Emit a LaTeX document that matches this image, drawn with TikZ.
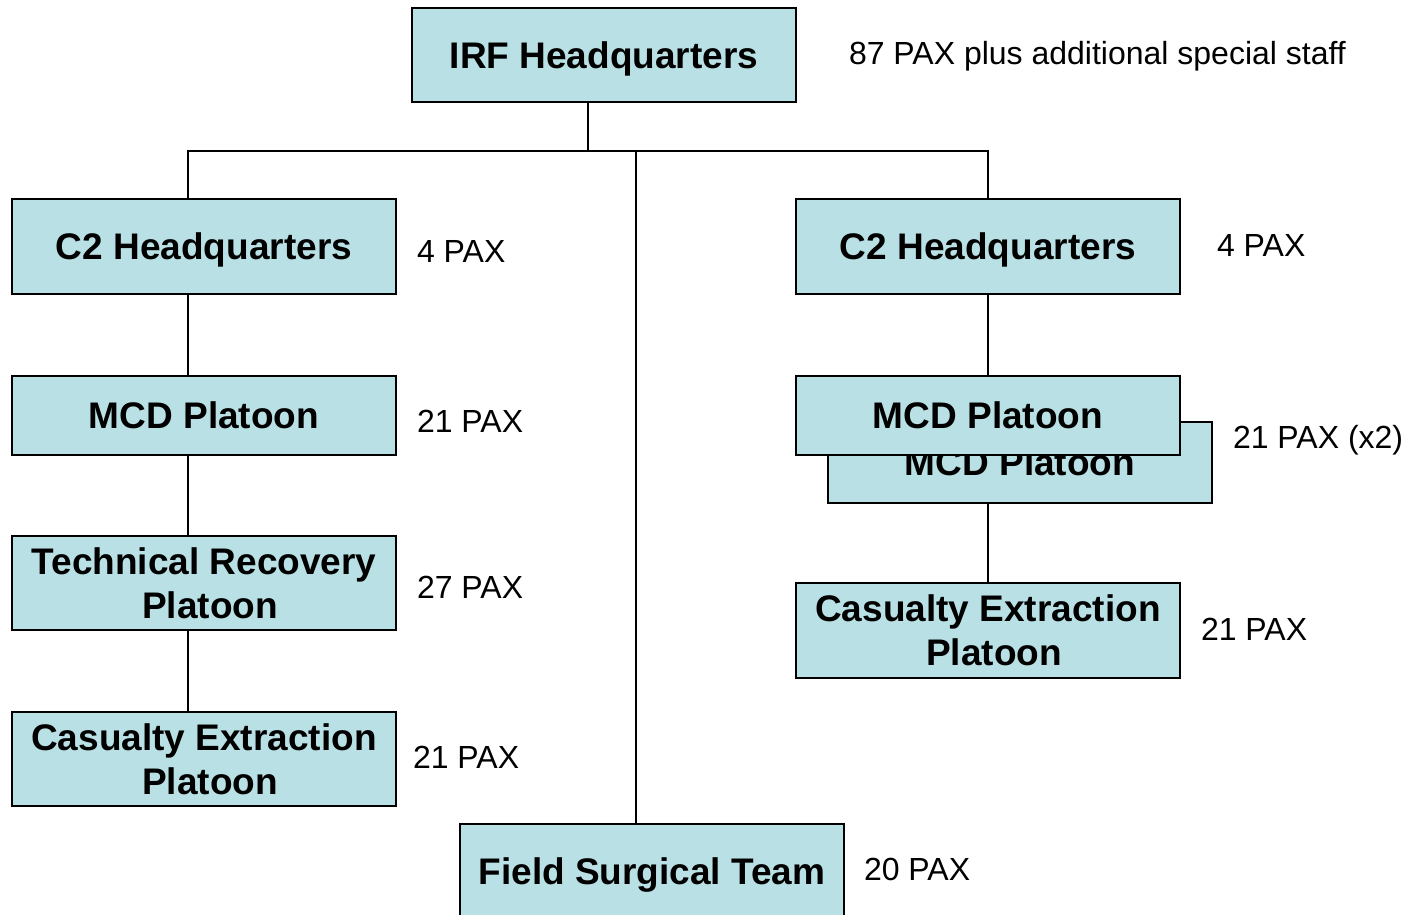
\documentclass[tikz,border=0pt]{standalone}
\usepackage{fontspec}
\setmainfont{Liberation Sans}
\definecolor{boxblue}{RGB}{185,224,228}
\begin{document}
\begin{tikzpicture}[x=0.5pt,y=-0.5pt,line width=1pt,
    unit/.style={draw,line width=1pt,fill=boxblue,minimum width=192pt,
        align=center,inner sep=0pt,font=\bfseries\fontsize{18.5}{22}\selectfont},
    oneline/.style={text height=13.25pt,text depth=0pt},
    pax/.style={anchor=west,inner sep=0pt,text height=11.45pt,text depth=0pt,
        font=\fontsize{16}{19}\selectfont}]
    \useasboundingbox (0,0) rectangle (1415,915);
    % boxes
    \node[unit,oneline,minimum height=47pt] (irf) at (604,55) {IRF Headquarters};
    \node[unit,oneline,minimum height=47.5pt] (c2l) at (204,246.5) {C2 Headquarters};
    \node[unit,oneline,minimum height=47.5pt] (c2r) at (988,246.5) {C2 Headquarters};
    \node[unit,oneline,minimum height=39.5pt] (mcdl) at (204,415.5) {MCD Platoon};
    \node[unit,oneline,minimum height=40.5pt] (mcdrb) at (1020,462.5) {MCD Platoon};
    \node[unit,oneline,minimum height=39.5pt] (mcdr) at (988,415.5) {MCD Platoon};
    \node[unit,minimum height=47pt] (trp) at (204,583) {Technical Recovery\\\hspace*{6pt}Platoon};
    \node[unit,minimum height=47pt] (cepl) at (204,759) {Casualty Extraction\\\hspace*{6pt}Platoon};
    \node[unit,minimum height=47.5pt] (cepr) at (988,630.5) {Casualty Extraction\\\hspace*{6pt}Platoon};
    \node[unit,oneline,minimum height=47pt] (fst) at (652,871) {Field Surgical Team};
    % strengths
    \node[pax] (pirf) at (848,53) {87 PAX plus additional special staff};
    \node[pax] (pc2l) at (416,251) {4 PAX};
    \node[pax] (pc2r) at (1216,245) {4 PAX};
    \node[pax] (pmcdl) at (416,421) {21 PAX};
    \node[pax] (pmcdr) at (1232,437) {21 PAX (x2)};
    \node[pax] (ptrp) at (416,587) {27 PAX};
    \node[pax] (pcepl) at (412,757) {21 PAX};
    \node[pax] (pcepr) at (1200,629) {21 PAX};
    \node[pax] (pfst) at (863,869) {20 PAX};
    % lines
    \coordinate (hqdrop) at (588,151);
    \coordinate (busL) at (188,151);
    \coordinate (busM) at (636,151);
    \coordinate (busR) at (988,151);
    \draw (irf.south -| hqdrop) -- (hqdrop);
    \draw (c2l.north -| busL) -- (busL) -- (busR) -- (c2r.north -| busR);
    \draw (busM) -- (fst.north -| busM);
    \draw (c2l.south -| busL) -- (mcdl.north -| busL);
    \draw (mcdl.south -| busL) -- (trp.north -| busL);
    \draw (trp.south -| busL) -- (cepl.north -| busL);
    \draw (c2r.south -| busR) -- (mcdr.north -| busR);
    \draw (mcdrb.south -| busR) -- (cepr.north -| busR);
\end{tikzpicture}
\end{document}
